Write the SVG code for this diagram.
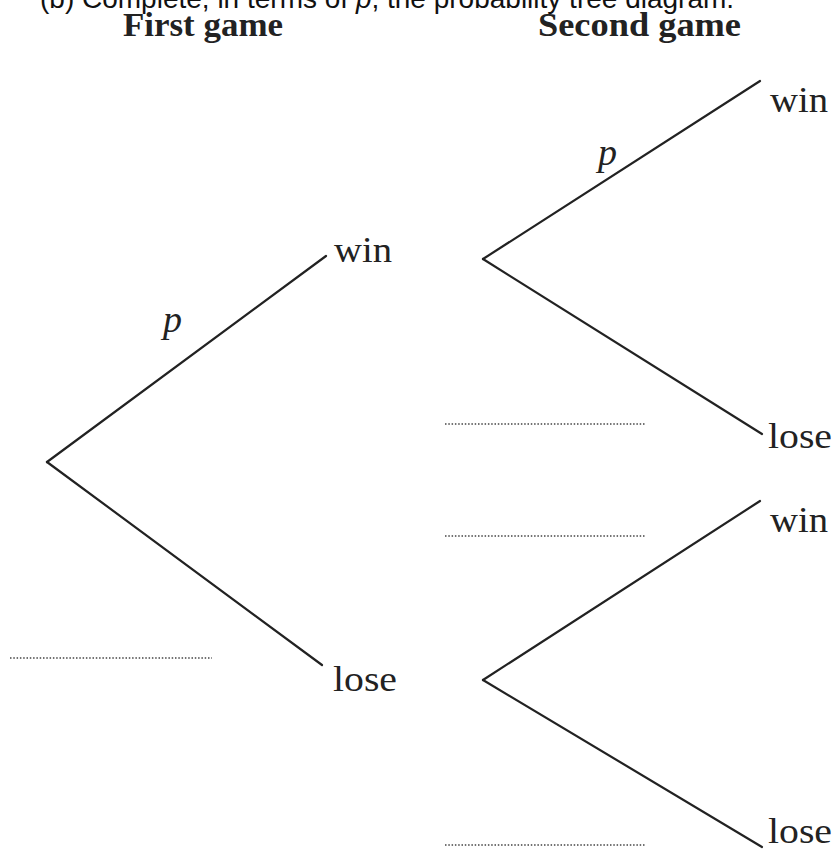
<svg xmlns="http://www.w3.org/2000/svg" width="837" height="851" viewBox="0 0 837 851">
<style>
.head{font-family:"Liberation Serif",serif;font-weight:bold;font-size:34px;fill:#222}
.lbl{font-family:"Liberation Serif",serif;font-size:36px;fill:#222}
.prob{font-family:"Liberation Serif",serif;font-style:italic;font-size:38px;fill:#222}
.top{font-family:"Liberation Sans",Arial,sans-serif;font-size:28px;fill:#111}
.br{stroke:#222;stroke-width:2.2;fill:none;stroke-linecap:round}
.dot{stroke:#444;stroke-width:1.3;stroke-dasharray:1.5 1.8;fill:none}
</style>
<rect width="837" height="851" fill="#fff"/>
<text class="top" x="40" y="8">(b) Complete, in terms of <tspan font-style="italic">p</tspan>, the probability tree diagram.</text>
<text class="head" x="123" y="36" textLength="160" lengthAdjust="spacingAndGlyphs">First game</text>
<text class="head" x="538" y="36" textLength="203" lengthAdjust="spacingAndGlyphs">Second game</text>
<g id="connectors">
<line class="br" x1="47" y1="462" x2="326" y2="256"/>
<line class="br" x1="47" y1="462" x2="322" y2="665"/>
<line class="br" x1="483" y1="259" x2="760" y2="81"/>
<line class="br" x1="483" y1="259" x2="762" y2="434"/>
<line class="br" x1="483" y1="680" x2="760" y2="501"/>
<line class="br" x1="483" y1="680" x2="762" y2="847"/>
</g>
<g id="first-win"><text class="lbl" x="334" y="262" textLength="58" lengthAdjust="spacingAndGlyphs">win</text></g>
<g id="first-lose"><text class="lbl" x="333" y="691" textLength="64" lengthAdjust="spacingAndGlyphs">lose</text></g>
<g id="second-win-1"><text class="lbl" x="770" y="112" textLength="58" lengthAdjust="spacingAndGlyphs">win</text></g>
<g id="second-lose-1"><text class="lbl" x="768" y="448" textLength="64" lengthAdjust="spacingAndGlyphs">lose</text></g>
<g id="second-win-2"><text class="lbl" x="770" y="532" textLength="58" lengthAdjust="spacingAndGlyphs">win</text></g>
<g id="second-lose-2"><text class="lbl" x="768" y="843" textLength="64" lengthAdjust="spacingAndGlyphs">lose</text></g>
<g id="probs">
<text class="prob" x="163" y="332">p</text>
<text class="prob" x="598" y="165">p</text>
</g>
<g id="blanks">
<line class="dot" x1="10" y1="658" x2="212" y2="658"/>
<line class="dot" x1="445" y1="424" x2="646" y2="424"/>
<line class="dot" x1="445" y1="536" x2="646" y2="536"/>
<line class="dot" x1="445" y1="845" x2="646" y2="845"/>
</g>
</svg>
